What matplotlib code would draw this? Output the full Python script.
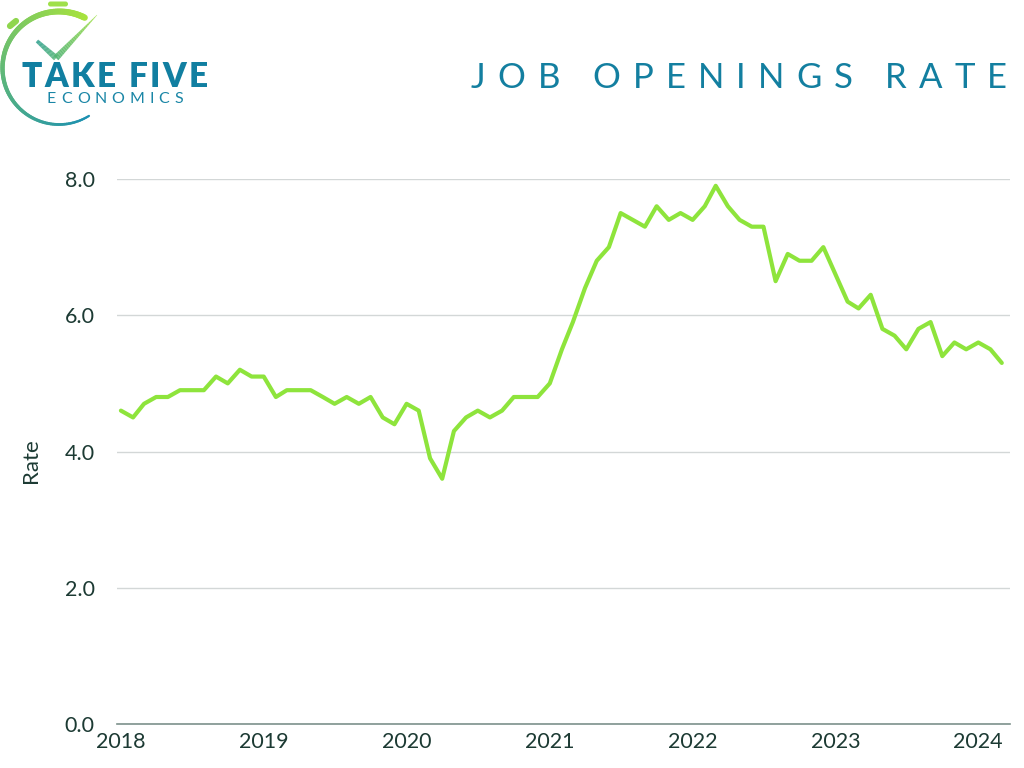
import matplotlib
matplotlib.use("Agg")
import matplotlib.pyplot as plt
from matplotlib.collections import LineCollection
from matplotlib.patches import FancyBboxPatch
import numpy as np
import pandas as pd

# ---------------- data ----------------
start_month = "2018-01-01"
rate = [
    4.6, 4.5, 4.7, 4.8, 4.8, 4.9, 4.9, 4.9, 5.1, 5.0, 5.2, 5.1,   # 2018
    5.1, 4.8, 4.9, 4.9, 4.9, 4.8, 4.7, 4.8, 4.7, 4.8, 4.5, 4.4,   # 2019
    4.7, 4.6, 3.9, 3.6, 4.3, 4.5, 4.6, 4.5, 4.6, 4.8, 4.8, 4.8,   # 2020
    5.0, 5.5, 5.9, 6.4, 6.8, 7.0, 7.5, 7.4, 7.3, 7.6, 7.4, 7.5,   # 2021
    7.4, 7.6, 7.9, 7.6, 7.4, 7.3, 7.3, 6.5, 6.9, 6.8, 6.8, 7.0,   # 2022
    6.6, 6.2, 6.1, 6.3, 5.8, 5.7, 5.5, 5.8, 5.9, 5.4, 5.6, 5.5,   # 2023
    5.6, 5.5, 5.3,                                                # 2024
]
dates = pd.date_range(start_month, periods=len(rate), freq="MS")
year_ticks = [2018, 2019, 2020, 2021, 2022, 2023, 2024]
y_ticks = [0.0, 2.0, 4.0, 6.0, 8.0]
title = "JOB OPENINGS RATE"
y_label = "Rate"

# ---------------- styling ----------------
plt.rcParams["font.family"] = ["Lato", "DejaVu Sans"]
W, H = 1024, 768
fig = plt.figure(figsize=(W / 100, H / 100), dpi=100)
fig.patch.set_facecolor("white")

line_color = "#8ee43c"
text_dark = "#1c3a33"
teal = "#137fa0"

ax = fig.add_axes([117 / W, 1 - 724 / H, (1010 - 117) / W, (724 - 179) / H])
ax.plot(dates, rate, color=line_color, lw=3.0, solid_joinstyle="round",
        solid_capstyle="round", clip_on=False, zorder=3)
ax.set_ylim(0, 8)
ax.set_xlim(pd.Timestamp("2017-12-22"), pd.Timestamp("2024-03-22"))
ax.set_yticks(y_ticks)
ax.set_yticklabels([f"{v:.1f}" for v in y_ticks])
ax.set_xticks([pd.Timestamp(f"{y}-01-01") for y in year_ticks])
ax.set_xticklabels([str(y) for y in year_ticks])
ax.tick_params(axis="both", length=0, labelsize=15.5, colors=text_dark)
ax.tick_params(axis="y", pad=16)
ax.tick_params(axis="x", pad=6)
ax.grid(axis="y", color="#d3d7d7", lw=1.0)
ax.set_axisbelow(True)
for s in ["top", "right", "left"]:
    ax.spines[s].set_visible(False)
ax.spines["bottom"].set_color("#7d918c")
ax.spines["bottom"].set_linewidth(1.2)
ax.set_ylabel(y_label, fontsize=16, color=text_dark)
ax.yaxis.set_label_coords(-(117 - 31) / (1010 - 117), 0.483)
ax.yaxis.label.set_verticalalignment("center")

# ---------------- overlay (logo + title) ----------------
ov = fig.add_axes([0, 0, 1, 1], zorder=5)
ov.set_xlim(0, W)
ov.set_ylim(H, 0)
ov.axis("off")
ov.patch.set_alpha(0)

renderer = fig.canvas.get_renderer()


def spaced_text(s, x0, x1, y, **kw):
    widths = []
    fs = kw.get("fontsize", 12)
    for c in s:
        if c == " ":
            widths.append(fs * 0.35)
            continue
        t = ov.text(0, 0, c, **kw)
        bb = t.get_window_extent(renderer)
        widths.append(bb.width)
        t.remove()
    n = len(s)
    track = (x1 - x0 - sum(widths)) / (n - 1)
    x = x0
    for c, w in zip(s, widths):
        if c != " ":
            ov.text(x, y, c, ha="left", va="baseline", **kw)
        x += w + track


spaced_text(title, 471, 1007, 88, fontsize=25, color=teal)

# logo: stopwatch arc with gradient
c_top = np.array([0.66, 0.89, 0.24])
c_bot = np.array([0.10, 0.56, 0.70])
cx, cy, r = 59, 68, 56.5
ang = np.linspace(63, 302, 120)
xs = cx + r * np.cos(np.radians(ang))
ys = cy - r * np.sin(np.radians(ang))
pts = np.column_stack([xs, ys])
segs = np.stack([pts[:-1], pts[1:]], axis=1)
f = (ang[:-1] - 63) / (302 - 63)
cols = [tuple(c_top * (1 - v) + c_bot * v) for v in f]
lws = 4.6 - 3.0 * f
ov.add_collection(LineCollection(segs, colors=cols, linewidths=lws, capstyle="round"))

# knob and side button
ov.add_patch(FancyBboxPatch((48, 1.5), 20, 5, boxstyle="round,pad=0,rounding_size=2.5",
                            fc="#9fe04a", ec="none"))
ov.plot([10, 16], [26, 21], color="#8fd64e", lw=4.5, solid_capstyle="round")

# checkmark
chk = np.array([[37, 41], [56, 58], [97, 15]])
path = np.vstack([np.linspace(chk[0], chk[1], 30), np.linspace(chk[1], chk[2], 60)[1:]])
segs2 = np.stack([path[:-1], path[1:]], axis=1)
g = np.linspace(0, 1, len(segs2))
c_l = np.array([0.17, 0.62, 0.55])
c_r = np.array([0.62, 0.88, 0.26])
cols2 = [tuple(c_l * (1 - v) + c_r * v) for v in g]
lw2 = np.where(g < 0.33, 2.6 + 1.8 * g / 0.33, 4.4 * (1 - (g - 0.33) / 0.67) + 0.3)
ov.add_collection(LineCollection(segs2, colors=cols2, linewidths=lw2, capstyle="butt"))

spaced_text("TAKE FIVE", 22, 208, 87, fontsize=24, color="#117fa1", fontweight="heavy")
spaced_text("ECONOMICS", 47, 183, 103, fontsize=11.5, color="#1a86a6")

fig.savefig("out.png", dpi=100, facecolor="white")
